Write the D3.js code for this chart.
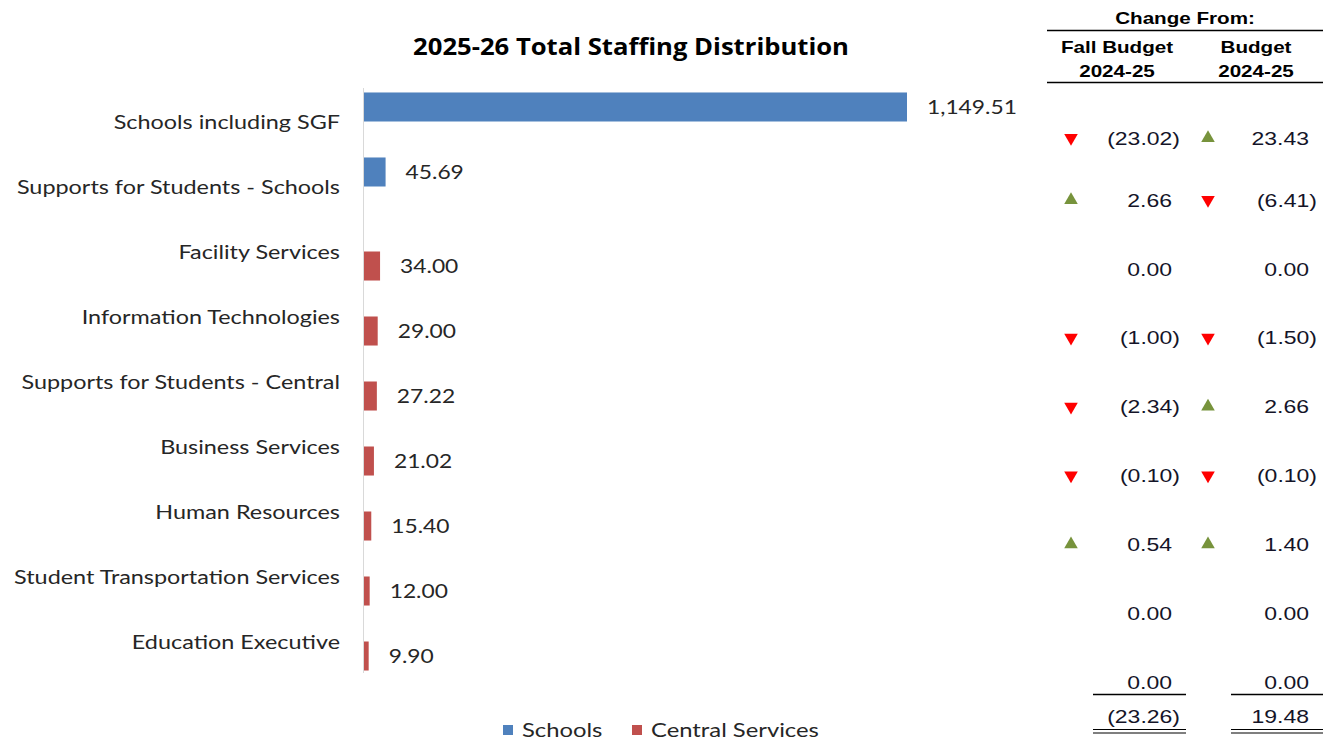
<!DOCTYPE html>
<html><head><meta charset="utf-8">
<script src="https://cdn.jsdelivr.net/npm/d3@7"></script>
<style>body{margin:0;background:#fff}svg{display:block}</style>
</head><body><svg id="c" width="1332" height="742"></svg>
<script>
const categories = ["Schools including SGF","Supports for Students - Schools","Facility Services","Information Technologies","Supports for Students - Central","Business Services","Human Resources","Student Transportation Services","Education Executive"];
const seriesNames = ["Schools","Central Services"];
const schoolsValues = [1149.51,45.69,null,null,null,null,null,null,null];
const centralValues = [null,null,34.00,29.00,27.22,21.02,15.40,12.00,9.90];
const changeFallBudget = [-23.02,2.66,0.00,-1.00,-2.34,-0.10,0.54,0.00,0.00];
const changeBudget = [23.43,-6.41,0.00,-1.50,2.66,-0.10,1.40,0.00,0.00];
const totalFallBudget = -23.26;
const totalBudget = 19.48;
const colors = ["#4f81bd","#c0504d"];

const svg = d3.select("#c");
const lab = "Lato, 'Open Sans', sans-serif";
const ar = "'Liberation Sans', Arial, sans-serif";

// helper: text horizontally stretched by sx, anchored at (x,y)
function stext(parent, x, y, str, o) {
  const g = parent.append("g").attr("transform", `translate(${x},${y}) scale(${o.sx},1)`);
  return g.append("text").attr("x",0).attr("y",0)
    .attr("text-anchor", o.anchor || "start").attr("dy", o.dy || "0.35em")
    .attr("font-family", o.family).attr("font-size", o.size)
    .attr("font-weight", o.weight || "normal").attr("fill", o.fill || "#000")
    .text(str);
}

// title
stext(svg, 631, 47, "2025-26 Total Staffing Distribution",
  {sx:1.14, anchor:"middle", family:"'Open Sans', sans-serif", size:22.5, weight:"bold", fill:"#000"});

const x = d3.scaleLinear().domain([0,1149.51]).range([364,907]);
const y = d3.scaleBand().domain(categories).range([89,674]);
const ySub = d3.scaleBand().domain(seriesNames).range([0,y.bandwidth()]).paddingInner(0).paddingOuter(0.12);

// category labels
const chartTxt = {sx:1.14, family:lab, size:20, fill:"#262626"};
categories.forEach(c => stext(svg, 340, y(c)+y.bandwidth()/2, c, {...chartTxt, sx:1.17, anchor:"end"}));

// axis line
svg.append("line").attr("x1",363.5).attr("x2",363.5).attr("y1",88).attr("y2",673).attr("stroke","#d9d9d9").attr("stroke-width",1);

const series = [schoolsValues, centralValues];
series.forEach((vals,si)=>{
  const data = categories.map((c,i)=>({c,v:vals[i]})).filter(d=>d.v!=null);
  const g = svg.append("g");
  g.selectAll("rect").data(data).join("rect")
    .attr("x",x(0)).attr("y",d=>y(d.c)+ySub(seriesNames[si]))
    .attr("width",d=>x(d.v)-x(0)).attr("height",ySub.bandwidth()).attr("fill",colors[si]);
  data.forEach(d => stext(svg, x(d.v)+20, y(d.c)+ySub(seriesNames[si])+ySub.bandwidth()/2,
      d3.format(",.2f")(d.v), chartTxt));
});

// legend
[[503,522],[632,651]].forEach((p,i)=>{
  svg.append("rect").attr("x",p[0]).attr("y",725).attr("width",10).attr("height",10).attr("fill",colors[i]);
  stext(svg, p[1], 730, seriesNames[i], {...chartTxt, sx:1.19});
});

// right table
const t = svg.append("g");
const hdr = {sx:1.25, anchor:"middle", family:ar, size:16.5, weight:"bold", fill:"#000"};
stext(t, 1185, 18, "Change From:", hdr);
t.append("line").attr("x1",1047).attr("x2",1323).attr("y1",30.5).attr("y2",30.5).attr("stroke","#000").attr("stroke-width",1.5);
[["Fall Budget",1117],["Budget",1256]].forEach(d=>{
  stext(t, d[1], 47, d[0], hdr);
  stext(t, d[1], 71, "2024-25", hdr);
});
t.append("line").attr("x1",1047).attr("x2",1323).attr("y1",82.5).attr("y2",82.5).attr("stroke","#000").attr("stroke-width",1.5);

// table rows: first spreadsheet row is shorter than the others
const rowScale = d3.scalePoint().domain(categories.slice(1)).range([200,682]);
const rowY = c => c === categories[0] ? rowScale(categories[1]) - 62 : rowScale(c);
const fmt = v => v<0 ? "("+d3.format(".2f")(-v)+")" : d3.format(".2f")(v);
const valTxt = {sx:1.21, anchor:"end", family:ar, size:19, fill:"#141428"};
const cols = [{vals:changeFallBudget,tri:1071,right:1172,total:totalFallBudget,l1:1093,l2:1186},
              {vals:changeBudget,tri:1208,right:1309,total:totalBudget,l1:1231,l2:1323}];
const tri = d3.symbol().type(d3.symbolTriangle).size(80);
cols.forEach(col=>{
  categories.forEach((c,i)=>{
    const v = col.vals[i];
    const yy = rowY(c);
    stext(t, v<0 ? col.right+8 : col.right, yy, fmt(v), valTxt);
    if (v!==0) {
      t.append("path").attr("d",tri())
        .attr("transform",`translate(${col.tri},${yy}) rotate(${v<0?180:0})`)
        .attr("fill", v<0 ? "#ff0000" : "#77933c");
    }
  });
  t.append("line").attr("x1",col.l1).attr("x2",col.l2).attr("y1",694.5).attr("y2",694.5).attr("stroke","#000").attr("stroke-width",1.3);
  stext(t, col.total<0 ? col.right+8 : col.right, 716, fmt(col.total), valTxt);
  t.append("line").attr("x1",col.l1).attr("x2",col.l2).attr("y1",729.5).attr("y2",729.5).attr("stroke","#000").attr("stroke-width",1.2);
  t.append("line").attr("x1",col.l1).attr("x2",col.l2).attr("y1",733).attr("y2",733).attr("stroke","#000").attr("stroke-width",1.2);
});
</script></body></html>
